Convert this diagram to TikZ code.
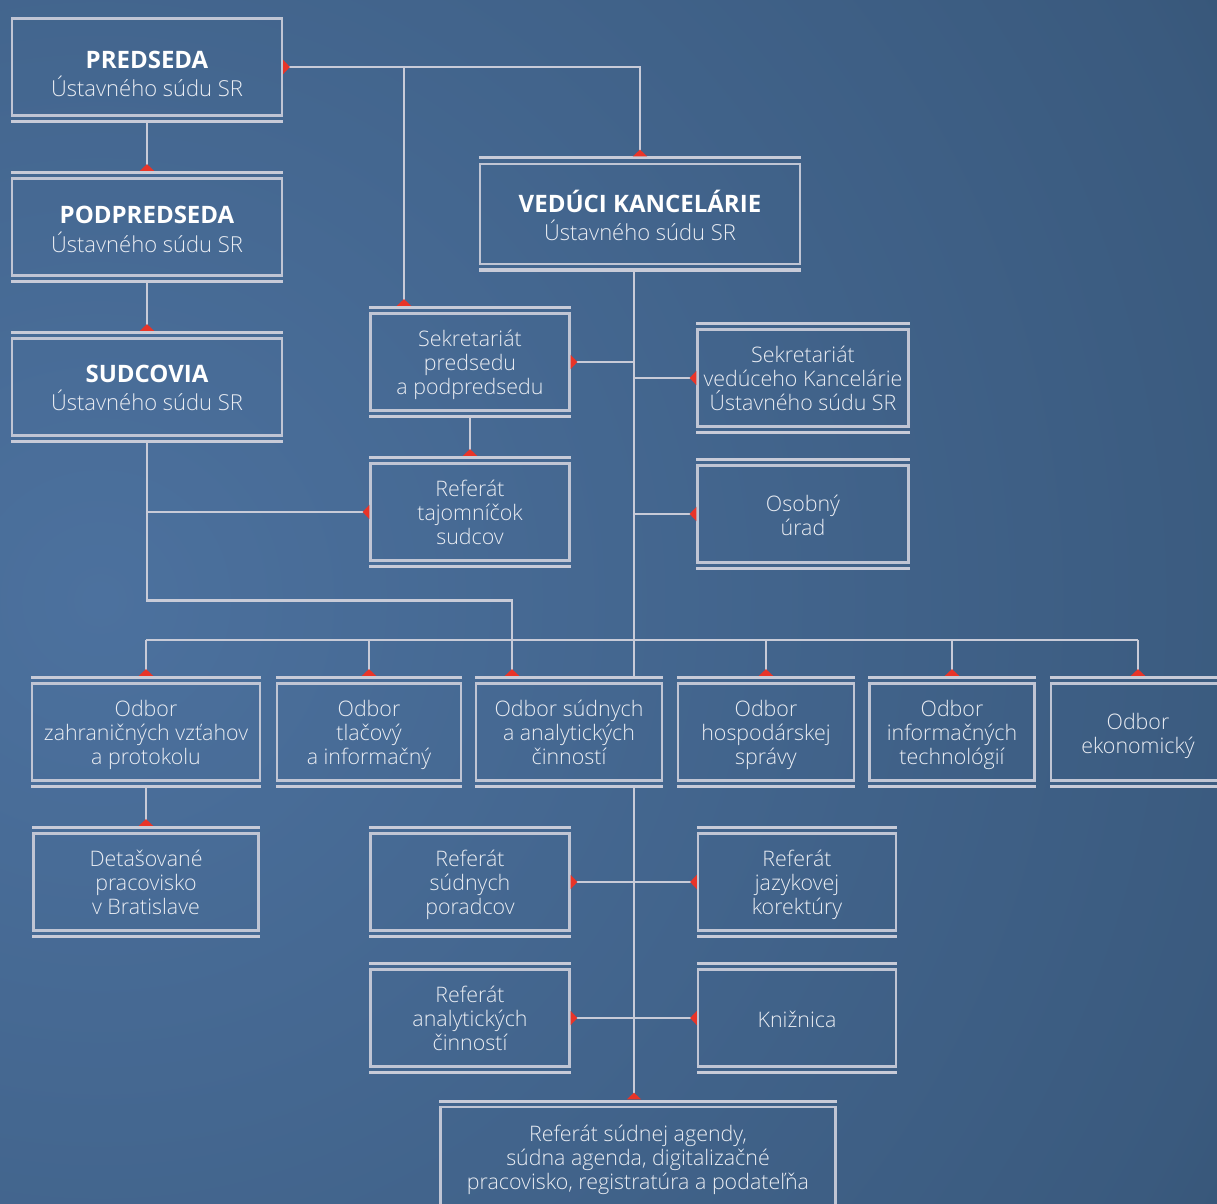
\documentclass[tikz,border=0pt]{standalone}
\usepackage{fontspec}
\setmainfont{Open Sans}[UprightFont=* Light, BoldFont=* Bold]
\usepackage{tikz}
\usetikzlibrary{arrows.meta, positioning, calc}
\definecolor{bginner}{RGB}{76,113,158}
\definecolor{bgmid}{RGB}{58,90,126}
\definecolor{bgouter}{RGB}{38,58,80}
\definecolor{linegray}{RGB}{200,203,216}
\definecolor{boxgray}{RGB}{192,197,212}
\definecolor{textgray}{RGB}{234,237,243}
\definecolor{tipred}{RGB}{232,52,40}
\pgfdeclareradialshading{bgshade}{\pgfpoint{0bp}{0bp}}{color(0bp)=(bginner); color(23bp)=(bgmid); color(38.5bp)=(bgouter); color(50bp)=(bgouter)}
\newcommand{\ttl}[1]{{\fontsize{12}{15}\selectfont\bfseries\color{white}#1}}
\tikzstyle{unit} = [rectangle, minimum height=48.5pt, text centered, align=center, draw=boxgray, line width=1.1pt, text=textgray, font=\fontsize{10.7}{12}\selectfont, inner sep=1pt, outer ysep=3.8pt, text depth=2.6pt]
\tikzstyle{head} = [unit, font=\fontsize{11}{12}\selectfont, text height=28.7pt]
\tikzstyle{one} = [unit, text height=11.8pt]
\tikzstyle{two} = [unit, text height=24.5pt]
\tikzstyle{three} = [unit, text height=35.4pt]
\tikzstyle{bar} = [draw=linegray, line width=1.5pt]
\tikzstyle{link} = [draw=linegray, line width=1.4pt]
\tikzstyle{arrow} = [link, ->]
\tikzstyle{twoway} = [link, <->]

\begin{document}
\begin{tikzpicture}[node distance=80pt, >={Triangle[reversed, length=3.4pt, width=7pt, color=tipred]}]
	\useasboundingbox (0,0) rectangle (608.5pt,-602pt);
	\begin{scope}
		\clip (0,0) rectangle (608.5pt,-602pt);
		\fill [bgouter] (0,0) rectangle (608.5pt,-602pt);
		\shade[shading=bgshade] (50pt,-300pt) circle (650pt);
	\end{scope}
	% vedenie a kancelaria
	\node (PRED) [head, minimum width=135pt, text height=32pt] at (73.5pt,-33.5pt) {\ttl{PREDSEDA}\\[2pt]Ústavného súdu SR};
	\node (PODP) [head, minimum width=135pt, text height=27.6pt, below of=PRED] {\ttl{PODPREDSEDA}\\[2pt]Ústavného súdu SR};
	\node (SUDC) [head, minimum width=135pt, text height=25.6pt, below of=PODP] {\ttl{SUDCOVIA}\\[2pt]Ústavného súdu SR};
	\node (VED) [head, minimum width=160pt, minimum height=50pt, text height=29.6pt, right of=PRED, xshift=166.5pt, yshift=-73.5pt] {\ttl{VEDÚCI KANCELÁRIE}\\[2pt]Ústavného súdu SR};
	\node (SEKP) [three, minimum width=99.5pt, below of=VED, xshift=-85pt, yshift=6pt] {Sekretariát\\predsedu\\a podpredsedu};
	\node (SEKV) [three, minimum width=105.5pt, below of=VED, xshift=81.5pt, yshift=-2pt] {Sekretariát\\vedúceho Kancelárie\\Ústavného súdu SR};
	\node (TAJ) [three, minimum width=99.5pt, below of=SEKP, yshift=5pt] {Referát\\tajomníčok\\sudcov};
	\node (OSOB) [two, minimum width=105.5pt, below of=SEKV, yshift=12pt] {Osobný\\úrad};
	% odbory
	\node (SUDN) [three, minimum width=93pt, below of=TAJ, xshift=49.5pt, yshift=-30pt] {Odbor súdnych\\a analytických\\činností};
	\node (TLAC) [three, minimum width=92pt, left of=SUDN, xshift=-20pt] {Odbor\\tlačový\\a informačný};
	\node (ZAHR) [three, minimum width=114pt, left of=TLAC, xshift=-31.5pt] {Odbor\\zahraničných vzťahov\\a protokolu};
	\node (HOSP) [three, minimum width=88pt, right of=SUDN, xshift=18.5pt] {Odbor\\hospodárskej\\správy};
	\node (INFO) [three, minimum width=82.5pt, right of=HOSP, xshift=13pt] {Odbor\\informačných\\technológií};
	\node (EKON) [two, minimum width=87pt, right of=INFO, xshift=13pt] {Odbor\\ekonomický};
	% referaty
	\node (DETAS) [three, minimum width=112.5pt, below of=ZAHR, yshift=5pt] {Detašované\\pracovisko\\v Bratislave};
	\node (PORAD) [three, minimum width=99.5pt, below of=SUDN, xshift=-49.5pt, yshift=5pt] {Referát\\súdnych\\poradcov};
	\node (JAZYK) [three, minimum width=99pt, right of=PORAD, xshift=83.5pt] {Referát\\jazykovej\\korektúry};
	\node (ANAL) [three, minimum width=99.5pt, below of=PORAD, yshift=12pt] {Referát\\analytických\\činností};
	\node (KNIZ) [one, minimum width=99pt, below of=JAZYK, yshift=12pt] {Knižnica};
	\node (AGEND) [three, minimum width=197.5pt, minimum height=50pt, below of=ANAL, xshift=84pt, yshift=10.5pt] {Referát súdnej agendy,\\súdna agenda, digitalizačné\\pracovisko, registratúra a podateľňa};
	\foreach \n in {PODP,SUDC,VED,SEKP,SEKV,TAJ,OSOB,ZAHR,TLAC,SUDN,HOSP,INFO,EKON,DETAS,PORAD,JAZYK,ANAL,KNIZ,AGEND}
		\draw [bar]([yshift=-0.8pt]\n.north west) -- ([yshift=-0.8pt]\n.north east);
	\foreach \n in {PRED,PODP,SUDC,VED,SEKP,SEKV,TAJ,OSOB,ZAHR,TLAC,SUDN,HOSP,INFO,EKON,DETAS,PORAD,JAZYK,ANAL,KNIZ}
		\draw [bar]([yshift=0.8pt]\n.south west) -- ([yshift=0.8pt]\n.south east);
	\coordinate (trunk) at ([xshift=-3pt]VED.south);
	\coordinate (bus) at (0,-320pt);
	\coordinate (sekin) at ([xshift=-33pt]SEKP.north);
	\coordinate (sudin) at ([xshift=-28.5pt]SUDN.north);
	\draw [twoway](PRED.east) -| (VED.north);
	\draw [arrow](sekin |- PRED.east) -- (sekin);
	\draw [arrow](PRED.south) -- (PODP.north);
	\draw [arrow](PODP.south) -- (SUDC.north);
	\draw [arrow](SUDC.south) -- ++(0,-78.5pt) -| (sudin);
	\draw [arrow](SUDC.south |- TAJ.west) -- (TAJ.west);
	\draw [arrow](SEKP.south) -- (TAJ.north);
	\draw [link](trunk) -- (trunk |- SUDN.north);
	\draw [arrow](trunk |- SEKP.east) -- (SEKP.east);
	\draw [arrow](trunk |- SEKV.west) -- (SEKV.west);
	\draw [arrow](trunk |- OSOB.west) -- (OSOB.west);
	\draw [link](ZAHR.north |- bus) -- (EKON.north |- bus);
	\foreach \n in {ZAHR,TLAC,HOSP,INFO,EKON}
		\draw [arrow](\n.north |- bus) -- (\n.north);
	\draw [arrow](ZAHR.south) -- (DETAS.north);
	\draw [arrow](trunk |- SUDN.south) -- (trunk |- AGEND.north);
	\foreach \a/\b in {PORAD/JAZYK,ANAL/KNIZ}{
		\draw [arrow](trunk |- \a.east) -- (\a.east);
		\draw [arrow](trunk |- \b.west) -- (\b.west);
	}
\end{tikzpicture}
\end{document}
